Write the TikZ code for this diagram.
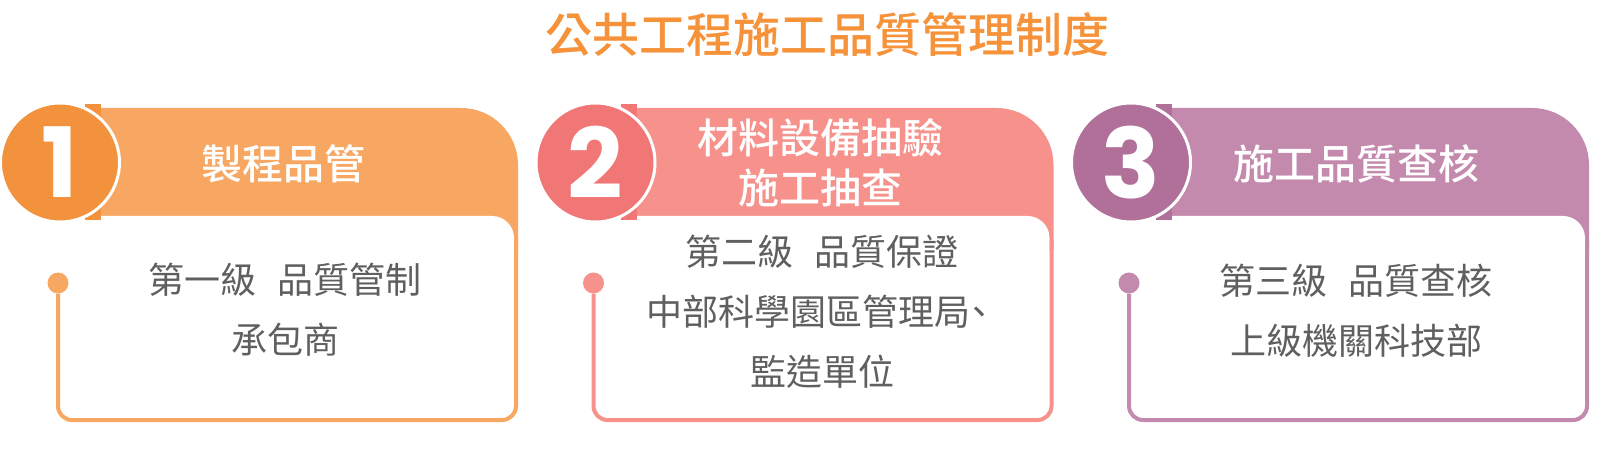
\documentclass[tikz,border=0pt]{standalone}
\usepackage{fontspec}
\usetikzlibrary{positioning, calc}
\newfontfamily\cjk{Noto Sans CJK TC}
\newfontfamily\cjkmed{Noto Sans CJK TC Medium}
\newfontfamily\numfont{Poppins Bold}
\definecolor{titleorange}{RGB}{246,146,58}
\definecolor{orangedark}{RGB}{243,146,60}
\definecolor{orangelight}{RGB}{248,167,99}
\definecolor{salmondark}{RGB}{240,119,118}
\definecolor{salmonlight}{RGB}{246,145,139}
\definecolor{plumdark}{RGB}{176,112,154}
\definecolor{plumlight}{RGB}{196,138,174}
\definecolor{textgray}{RGB}{95,95,95}

\begin{document}
\begin{tikzpicture}[
    x=1pt, y=1pt,
    numcircle/.style={circle, draw=white, line width=3pt, minimum size=119pt, inner sep=0pt, text=white, font=\numfont\fontsize{97}{97}\selectfont},
    dotnode/.style={circle, minimum size=21pt, inner sep=0pt},
    headtext/.style={text=white, align=center, font=\cjkmed\fontsize{41}{50}\selectfont},
    bodytext/.style={text=textgray, align=center, font=\cjk\fontsize{36}{60}\selectfont},
    rim/.style={line width=4pt, rounded corners=14pt}
]
\useasboundingbox (0,0) rectangle (1605,455);

% Title
\node[font=\cjkmed\fontsize{47}{47}\selectfont, text=titleorange] (title) at (827.5,420) {公共工程施工品質管理制度};

% Card 1
\fill[orangelight] (90,205) -- (90,347) -- (461,347) arc[start angle=90, end angle=0, radius=57] -- (518,205) -- cycle;
\fill[white] (60,150) -- (60,239) -- (492,239) arc[start angle=90, end angle=0, radius=22] -- (514,150) -- cycle;
\fill[orangedark] (85,235) rectangle (101,351);
\node[numcircle, fill=orangedark] (n1) at (60,292.5) {1};
\node[dotnode, fill=orangelight] (d1) at (58,172) {};
\coordinate (b1) at (516,35);
\coordinate (e1) at (516,215);
\draw[rim, orangelight] (d1) |- (b1) -- (e1);
\node[headtext] (h1) at (283,291) {製程品管};
\node[bodytext] (t1) at (285,145) {第一級\hspace{0.6em}品質管制\\承包商};

% Card 2
\fill[salmonlight] (625.5,205) -- (625.5,347) -- (996.5,347) arc[start angle=90, end angle=0, radius=57] -- (1053.5,205) -- cycle;
\fill[white] (595.5,150) -- (595.5,239) -- (1027.5,239) arc[start angle=90, end angle=0, radius=22] -- (1049.5,150) -- cycle;
\fill[salmondark] (620.5,235) rectangle (636.5,351);
\node[numcircle, fill=salmondark] (n2) at (595.5,292.5) {2};
\node[dotnode, fill=salmonlight] (d2) at (593.5,172) {};
\coordinate (b2) at (1051.5,35);
\coordinate (e2) at (1051.5,215);
\draw[rim, salmonlight] (d2) |- (b2) -- (e2);
\node[headtext] (h2) at (820,292) {材料設備抽驗\\施工抽查};
\node[bodytext] (t2) at (822,143) {第二級\hspace{0.6em}品質保證\\中部科學園區管理局\kern-0.25em、\\監造單位};

% Card 3
\fill[plumlight] (1161,205) -- (1161,347) -- (1532,347) arc[start angle=90, end angle=0, radius=57] -- (1589,205) -- cycle;
\fill[white] (1131,150) -- (1131,239) -- (1563,239) arc[start angle=90, end angle=0, radius=22] -- (1585,150) -- cycle;
\fill[plumdark] (1156,235) rectangle (1172,351);
\node[numcircle, fill=plumdark] (n3) at (1131,292.5) {3};
\node[dotnode, fill=plumlight] (d3) at (1129,172) {};
\coordinate (b3) at (1587,35);
\coordinate (e3) at (1587,215);
\draw[rim, plumlight] (d3) |- (b3) -- (e3);
\node[headtext] (h3) at (1356,291) {施工品質查核};
\node[bodytext] (t3) at (1356,144.5) {第三級\hspace{0.6em}品質查核\\上級機關科技部};

\end{tikzpicture}
\end{document}
